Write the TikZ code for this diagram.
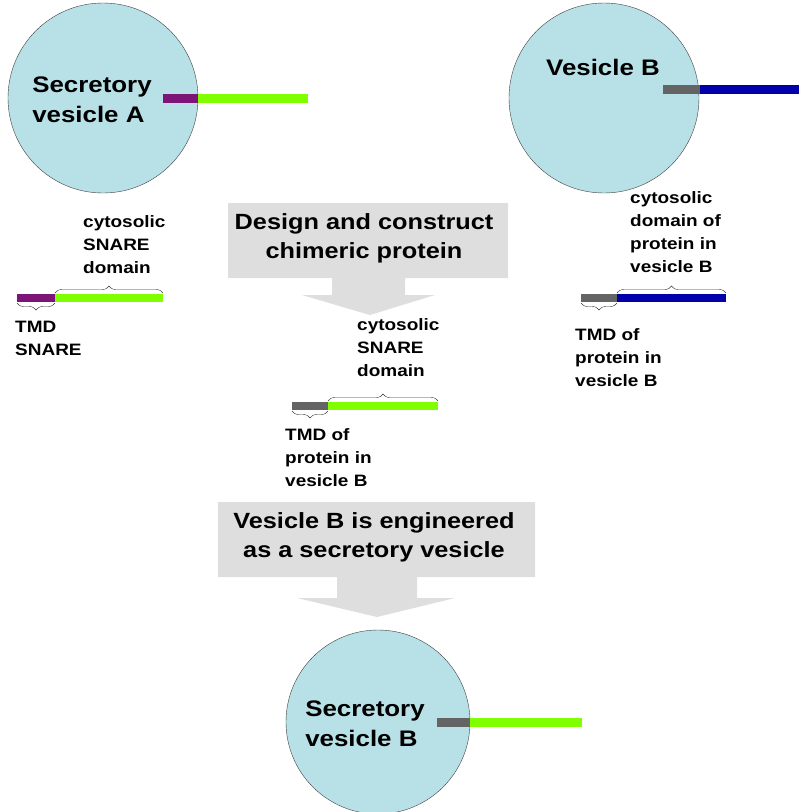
\documentclass[tikz,border=0pt]{standalone}
\usepackage{fontspec}
\setmainfont{Liberation Sans}[FakeStretch=1.15]
\usetikzlibrary{decorations.pathreplacing}

\definecolor{vesfill}{RGB}{183,225,231}
\definecolor{snaregreen}{RGB}{128,255,0}
\definecolor{tmdpurple}{RGB}{125,20,120}
\definecolor{tmdgray}{RGB}{100,100,100}
\definecolor{domblue}{RGB}{0,0,170}
\definecolor{boxgray}{RGB}{222,222,222}

\tikzset{
  vesicle/.style={circle, draw=black!75, thin, fill=vesfill, minimum size=#1, inner sep=0pt},
  vtext/.style={font=\fontsize{22.5}{30}\selectfont\bfseries, align=left, inner sep=0pt},
  btext/.style={font=\fontsize{22}{29}\selectfont\bfseries, align=center, inner sep=0pt},
  ltext/.style={font=\fontsize{16.5}{23}\selectfont\bfseries, align=left, inner sep=0pt, anchor=west},
  bar/.style={line width=#1},
  brc/.style={decorate, decoration={brace, amplitude=7pt}, thin, black!80},
}

\begin{document}
\begin{tikzpicture}[x=1pt, y=-1pt]
  \useasboundingbox (0,0) rectangle (799,812);

  % vesicles
  \node[vesicle=190pt] (vesA) at (103,98) {};
  \node[vesicle=190pt] (vesB) at (604,98) {};
  \node[vesicle=184pt] (vesC) at (378,722) {};
  \node[vtext] (vesAtxt) at (92,100) {Secretory\\vesicle A};
  \node[vtext] (vesBtxt) at (603,67) {Vesicle B};
  \node[vtext] (vesCtxt) at (365,724) {Secretory\\vesicle B};

  % SNAREs on the vesicles
  \coordinate (a1) at (163,98);
  \coordinate (a2) at (308,98);
  \draw[bar=9pt, tmdpurple] (a1) -- (vesA.east);
  \draw[bar=9pt, snaregreen] (vesA.east) -- (a2);
  \coordinate (b1) at (663,89);
  \coordinate (b2) at (700,89);
  \coordinate (b3) at (799,89);
  \draw[bar=9pt, tmdgray] (b1) -- (b2);
  \draw[bar=9pt, domblue] (b2) -- (b3);
  \coordinate (c1) at (437,722);
  \coordinate (c3) at (582,722);
  \draw[bar=9pt, tmdgray] (c1) -- (vesC.east);
  \draw[bar=9pt, snaregreen] (vesC.east) -- (c3);

  % design boxes
  \fill[boxgray] (228,203) -- (508,203) -- (508,278) -- (405,278) -- (405,295) -- (435,295)
    -- (370,315) -- (302,295) -- (332,295) -- (332,278) -- (228,278) -- cycle;
  \node[btext] (design) at (364,238) {Design and construct\\chimeric protein};
  \fill[boxgray] (218,502) -- (535,502) -- (535,577) -- (417,577) -- (417,598) -- (455,598)
    -- (377,617) -- (297,598) -- (337,598) -- (337,577) -- (218,577) -- cycle;
  \node[btext] (engin) at (374,537) {Vesicle B is engineered\\as a secretory vesicle};

  % SNARE of vesicle A
  \coordinate (l1) at (17,298);
  \coordinate (l2) at (55,298);
  \coordinate (l3) at (163,298);
  \draw[bar=8pt, tmdpurple] (l1) -- (l2);
  \draw[bar=8pt, snaregreen] (l2) -- (l3);
  \draw[brc] ([yshift=5pt]l2) -- ([yshift=5pt]l3);
  \draw[brc] ([yshift=-5pt]l2) -- ([yshift=-5pt]l1);
  \node[ltext] (lcyto) at (83,245) {cytosolic\\SNARE\\domain};
  \node[ltext] (ltmd) at (15,338) {TMD\\SNARE};

  % chimeric protein
  \coordinate (m1) at (292,406);
  \coordinate (m2) at (328,406);
  \coordinate (m3) at (438,406);
  \draw[bar=8pt, tmdgray] (m1) -- (m2);
  \draw[bar=8pt, snaregreen] (m2) -- (m3);
  \draw[brc] ([yshift=5pt]m2) -- ([yshift=5pt]m3);
  \draw[brc] ([yshift=-5pt]m2) -- ([yshift=-5pt]m1);
  \node[ltext] (mcyto) at (357,348) {cytosolic\\SNARE\\domain};
  \node[ltext] (mtmd) at (285,458) {TMD of\\protein in\\vesicle B};

  % protein of vesicle B
  \coordinate (r1) at (581,298);
  \coordinate (r2) at (617,298);
  \coordinate (r3) at (726,298);
  \draw[bar=8pt, tmdgray] (r1) -- (r2);
  \draw[bar=8pt, domblue] (r2) -- (r3);
  \draw[brc] ([yshift=5pt]r2) -- ([yshift=5pt]r3);
  \draw[brc] ([yshift=-5pt]r2) -- ([yshift=-5pt]r1);
  \node[ltext] (rcyto) at (630,232) {cytosolic\\domain of\\protein in\\vesicle B};
  \node[ltext] (rtmd) at (575,358) {TMD of\\protein in\\vesicle B};
\end{tikzpicture}
\end{document}
